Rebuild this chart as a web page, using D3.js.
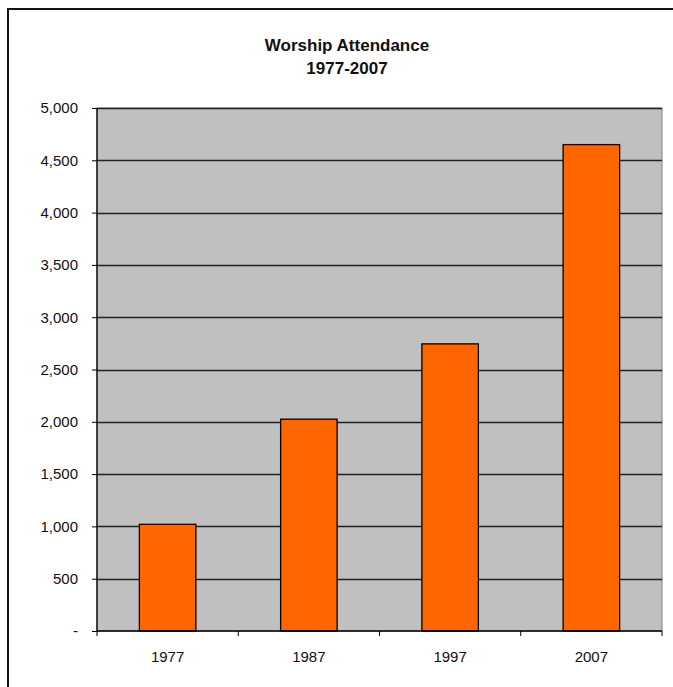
<!DOCTYPE html>
<html>
<head>
<meta charset="utf-8">
<script src="https://cdn.jsdelivr.net/npm/d3@7"></script>
<style>
  body { margin: 0; background: #fff; }
  svg { display: block; font-family: "Liberation Sans", Arial, sans-serif; }
  .axis text { font-size: 15px; fill: #111; }
  .axis path, .axis line { stroke: #000; }
</style>
</head>
<body>
<div id="graphic"></div>
<script>
// chart data
var years = ["1977", "1987", "1997", "2007"];
var attendance = [1020, 2025, 2745, 4650];
var yTicks = [0, 500, 1000, 1500, 2000, 2500, 3000, 3500, 4000, 4500, 5000];
var titleLines = ["Worship Attendance", "1977-2007"];

var width = 673, height = 687;
var margin = {top: 108, right: 11, bottom: 56, left: 97};
var w = width - margin.left - margin.right;

var svg = d3.select("#graphic").append("svg")
  .attr("width", width)
  .attr("height", height);

// outer frame (only top and left edges are visible)
svg.append("path")
  .attr("d", "M8," + height + "V9H" + width)
  .attr("fill", "none")
  .attr("stroke", "#111")
  .attr("stroke-width", 2);

// title
svg.append("g")
  .selectAll("text")
  .data(titleLines)
  .enter().append("text")
    .attr("x", 347)
    .attr("y", function(d, i) { return 51 + i * 23; })
    .attr("text-anchor", "middle")
    .style("font-size", "17px")
    .style("font-weight", "bold")
    .style("fill", "#111")
    .text(function(d) { return d; });

var plotH = 631 - margin.top;

var g = svg.append("g")
  .attr("transform", "translate(" + margin.left + "," + margin.top + ")");

var x = d3.scaleBand()
  .domain(years)
  .range([0, w])
  .paddingInner(0.6)
  .paddingOuter(0.3);

var y = d3.scaleLinear()
  .domain([0, 5000])
  .range([plotH, 0]);

// plot background
g.append("rect")
  .attr("width", w)
  .attr("height", plotH)
  .attr("fill", "#c0c0c0")
  .attr("stroke", "#808080");

// gridlines
g.selectAll(".grid")
  .data(yTicks.slice(1))
  .enter().append("line")
    .attr("class", "grid")
    .attr("x1", 0)
    .attr("x2", w)
    .attr("y1", function(d) { return Math.round(y(d)) + 0.5; })
    .attr("y2", function(d) { return Math.round(y(d)) + 0.5; })
    .attr("stroke", "#222")
    .attr("stroke-width", 1.3);

// bars
g.selectAll(".bar")
  .data(attendance)
  .enter().append("rect")
    .attr("class", "bar")
    .attr("x", function(d, i) { return x(years[i]); })
    .attr("y", function(d) { return y(d); })
    .attr("width", x.bandwidth())
    .attr("height", function(d) { return plotH - y(d); })
    .attr("fill", "#ff6600")
    .attr("stroke", "#000")
    .attr("stroke-width", 1.3);

// y axis
var fmt = d3.format(",");
g.append("g")
  .attr("class", "axis")
  .call(d3.axisLeft(y)
    .tickValues(yTicks)
    .tickSize(5)
    .tickPadding(14)
    .tickFormat(function(d) { return d === 0 ? "-" : fmt(d); }))
  .call(function(a) { a.select(".domain").attr("d", "M0,0V" + plotH).attr("stroke-width", 1.3); });

// x axis
var xAxis = g.append("g")
  .attr("class", "axis")
  .attr("transform", "translate(0," + plotH + ")")
  .call(d3.axisBottom(x).tickSize(0).tickPadding(20));
xAxis.select(".domain").attr("d", "M0,0H" + w).attr("stroke-width", 1.3);
// boundary ticks between categories
xAxis.selectAll(".sep")
  .data(d3.range(years.length + 1))
  .enter().append("line")
    .attr("class", "sep")
    .attr("x1", function(i) { return i * w / years.length; })
    .attr("x2", function(i) { return i * w / years.length; })
    .attr("y1", 0)
    .attr("y2", 5);
</script>
</body>
</html>
